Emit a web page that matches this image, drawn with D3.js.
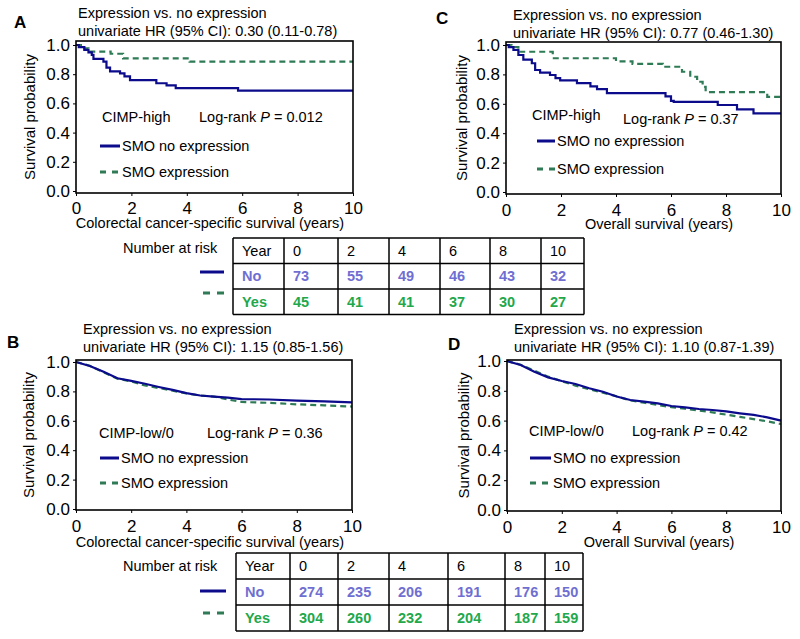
<!DOCTYPE html>
<html>
<head>
<meta charset="utf-8">
<script src="https://cdn.jsdelivr.net/npm/d3@7"></script>
<style>
  html, body { margin: 0; padding: 0; background: #fff; }
  svg { display: block; font-family: "Liberation Sans", Arial, sans-serif; }
</style>
</head>
<body>
<svg id="chart" width="800" height="639"></svg>
<script>
// ---------------- DATA ----------------
const xTicks = [0, 2, 4, 6, 8, 10];
const yTicks = [0, 0.2, 0.4, 0.6, 0.8, 1.0];
const riskYears = ["0", "2", "4", "6", "8", "10"];
const riskHighNo = [73, 55, 49, 46, 43, 32];
const riskHighYes = [45, 41, 41, 37, 30, 27];
const riskLowNo = [274, 235, 206, 191, 176, 150];
const riskLowYes = [304, 260, 232, 204, 187, 159];

// Kaplan-Meier curves: [years, survival]
const kmA_no = [[0,1],[0.1,0.985],[0.3,0.966],[0.45,0.95],[0.57,0.932],[0.63,0.905],[0.99,0.886],[1.1,0.845],[1.23,0.82],[1.59,0.806],[1.75,0.785],[1.95,0.76],[2.9,0.738],[3.27,0.724],[3.6,0.705],[5.85,0.688],[10,0.688]];
const kmA_yes = [[0,1],[0.3,0.977],[0.45,0.954],[1.25,0.94],[1.7,0.909],[4.1,0.886],[10,0.886]];
const kmC_no = [[0,1],[0.1,0.985],[0.27,0.966],[0.45,0.932],[0.63,0.9],[0.94,0.876],[1.06,0.83],[1.24,0.812],[1.6,0.796],[1.8,0.775],[1.97,0.76],[2.58,0.74],[3.07,0.718],[3.31,0.7],[3.67,0.672],[5.8,0.65],[6.0,0.62],[6.1,0.613],[7.7,0.592],[8.4,0.562],[9.0,0.535],[10,0.535]];
const kmC_yes = [[0,1],[0.2,0.985],[0.45,0.954],[1.7,0.91],[4.0,0.888],[4.6,0.872],[5.7,0.852],[6.4,0.818],[6.7,0.784],[6.95,0.75],[7.15,0.715],[7.26,0.68],[9.5,0.647],[10,0.647]];
const kmB_no = [[0,1],[0.5,0.973],[1.0,0.934],[1.5,0.889],[2.0,0.872],[2.5,0.852],[3.0,0.83],[3.5,0.81],[4.0,0.788],[4.5,0.772],[5.0,0.765],[5.5,0.757],[6.0,0.748],[7.0,0.745],[8.0,0.737],[9.0,0.732],[10,0.725]];
const kmB_yes = [[0,1],[0.5,0.975],[1.0,0.93],[1.5,0.887],[2.0,0.868],[2.5,0.84],[3.0,0.823],[3.5,0.805],[4.0,0.787],[4.5,0.772],[5.0,0.765],[5.5,0.745],[6.0,0.728],[7.0,0.722],[8.0,0.712],[9.0,0.705],[10,0.697]];
const kmD_no = [[0,1],[0.5,0.973],[1.0,0.928],[1.5,0.89],[2.0,0.866],[2.5,0.846],[3.0,0.817],[3.5,0.794],[4.0,0.762],[4.5,0.738],[5.0,0.727],[5.5,0.716],[6.0,0.698],[6.5,0.689],[7.0,0.678],[7.5,0.671],[8.0,0.662],[8.5,0.649],[9.0,0.638],[9.5,0.622],[10,0.6]];
const kmD_yes = [[0,1],[0.5,0.975],[1.0,0.935],[1.5,0.895],[2.0,0.865],[2.5,0.835],[3.0,0.81],[3.5,0.788],[4.0,0.763],[4.5,0.735],[5.0,0.72],[5.5,0.705],[6.0,0.69],[6.5,0.68],[7.0,0.668],[7.5,0.655],[8.0,0.64],[8.5,0.625],[9.0,0.61],[9.5,0.595],[10,0.577]];

const hrA = "univariate HR (95% CI): 0.30 (0.11-0.78)";
const hrC = "univariate HR (95% CI): 0.77 (0.46-1.30)";
const hrB = "univariate HR (95% CI): 1.15 (0.85-1.56)";
const hrD = "univariate HR (95% CI): 1.10 (0.87-1.39)";

// ---------------- STYLE ----------------
const BLUE = "#0b0b8c";
const GREEN = "#2e7b55";
const NO_TXT = "#6f6fd2";
const YES_TXT = "#1fa84c";
const FS = 14.5;

const svg = d3.select("#chart");

const panels = [
  { letter:"A", lx:14, ly:28, tx:78, t1:18, t2:36, box:{l:76,r:353,t:41,b:193}, y0:191, y1:45,
    no:kmA_no, yes:kmA_yes, step:true, hr:hrA, xlab:"Colorectal cancer-specific survival (years)",
    xlabX:210, xlabY:228, tickOff:9, ylabX:30, group:"CIMP-high", grpX:102, grpY:122, p:"0.012", pX:199, pY:122,
    legX:100, legW:20, legY1:146, legY2:172 },
  { letter:"C", lx:436, ly:24, tx:513, t1:20, t2:38, box:{l:506,r:781,t:42,b:194}, y0:192, y1:45,
    no:kmC_no, yes:kmC_yes, step:true, hr:hrC, xlab:"Overall survival (years)",
    xlabX:659, xlabY:229, tickOff:10, ylabX:462, group:"CIMP-high", grpX:532, grpY:120, p:"0.37", pX:623, pY:124,
    legX:537, legW:18, legY1:141, legY2:169 },
  { letter:"B", lx:7, ly:348, tx:83, t1:334, t2:352, box:{l:76,r:352,t:360,b:510}, y0:509, y1:362,
    no:kmB_no, yes:kmB_yes, step:false, hr:hrB, xlab:"Colorectal cancer-specific survival (years)",
    xlabX:210, xlabY:547, tickOff:10, ylabX:29, group:"CIMP-low/0", grpX:99, grpY:438, p:"0.36", pX:207, pY:438,
    legX:100, legW:19, legY1:458, legY2:483 },
  { letter:"D", lx:448, ly:350, tx:514, t1:334, t2:352, box:{l:507,r:781,t:360,b:511}, y0:510, y1:361,
    no:kmD_no, yes:kmD_yes, step:false, hr:hrD, xlab:"Overall Survival (years)",
    xlabX:659, xlabY:547, tickOff:10, ylabX:464, group:"CIMP-low/0", grpX:529, grpY:436, p:"0.42", pX:632, pY:436,
    legX:530, legW:21, legY1:458, legY2:483 }
];

panels.forEach(p => {
  const g = svg.append("g");
  const x = d3.scaleLinear().domain([0, 10]).range([p.box.l, p.box.r]);
  const y = d3.scaleLinear().domain([0, 1]).range([p.y0, p.y1]);

  // panel letter & titles
  g.append("text").attr("x", p.lx).attr("y", p.ly).attr("font-size", 17).attr("font-weight", "bold").text(p.letter);
  g.append("text").attr("x", p.tx).attr("y", p.t1).attr("font-size", FS).text("Expression vs. no expression");
  g.append("text").attr("x", p.tx).attr("y", p.t2).attr("font-size", FS).text(p.hr);

  // axes
  const xa = g.append("g").attr("transform", `translate(0,${p.box.b})`)
    .call(d3.axisBottom(x).tickValues(xTicks).tickFormat(d3.format("d")).tickSize(3).tickSizeOuter(0).tickPadding(p.tickOff - 3));
  xa.select(".domain").remove();
  xa.selectAll("text").attr("font-size", 17).attr("font-family", "Liberation Sans, Arial, sans-serif").attr("fill", "#000");
  xa.selectAll("line").attr("stroke", "#000").attr("stroke-width", 1);

  const ya = g.append("g").attr("transform", `translate(${p.box.l},0)`)
    .call(d3.axisLeft(y).tickValues(yTicks).tickFormat(d3.format(".1f")).tickSize(3).tickSizeOuter(0).tickPadding(3));
  ya.select(".domain").remove();
  ya.selectAll("text").attr("font-size", 17).attr("font-family", "Liberation Sans, Arial, sans-serif").attr("fill", "#000");
  ya.selectAll("line").attr("stroke", "#000").attr("stroke-width", 1);

  // axis labels
  g.append("text").attr("x", p.xlabX).attr("y", p.xlabY).attr("text-anchor", "middle").attr("font-size", FS).text(p.xlab);
  const yc = (p.box.t + p.box.b) / 2;
  g.append("text").attr("transform", `translate(${p.ylabX + 5},${yc}) rotate(-90)`)
    .attr("text-anchor", "middle").attr("font-size", FS + 0.5).text("Survival probability");

  // curves
  const line = d3.line().x(d => x(d[0])).y(d => y(d[1])).curve(p.step ? d3.curveStepAfter : d3.curveLinear);
  g.append("path").datum(p.yes).attr("d", line).attr("fill", "none")
    .attr("stroke", GREEN).attr("stroke-width", 2.2).attr("stroke-dasharray", "6,4");
  g.append("path").datum(p.no).attr("d", line).attr("fill", "none")
    .attr("stroke", BLUE).attr("stroke-width", 2.2);

  // box
  g.append("rect").attr("x", p.box.l).attr("y", p.box.t).attr("width", p.box.r - p.box.l).attr("height", p.box.b - p.box.t)
    .attr("fill", "none").attr("stroke", "#000").attr("stroke-width", 1.6);

  // annotations
  g.append("text").attr("x", p.grpX).attr("y", p.grpY).attr("font-size", FS).text(p.group);
  const pt = g.append("text").attr("x", p.pX).attr("y", p.pY).attr("font-size", FS);
  pt.append("tspan").text("Log-rank ");
  pt.append("tspan").attr("font-style", "italic").text("P");
  pt.append("tspan").text(" = " + p.p);

  // legend
  g.append("line").attr("x1", p.legX).attr("x2", p.legX + p.legW).attr("y1", p.legY1).attr("y2", p.legY1)
    .attr("stroke", BLUE).attr("stroke-width", 3);
  g.append("text").attr("x", p.legX + p.legW + 2).attr("y", p.legY1 + 5).attr("font-size", FS).text("SMO no expression");
  g.append("line").attr("x1", p.legX).attr("x2", p.legX + p.legW).attr("y1", p.legY2).attr("y2", p.legY2)
    .attr("stroke", GREEN).attr("stroke-width", 3).attr("stroke-dasharray", "6,6");
  g.append("text").attr("x", p.legX + p.legW + 2).attr("y", p.legY2 + 5).attr("font-size", FS).text("SMO expression");
});

// ---------------- RISK TABLES ----------------
const tables = [
  { cols:[233, 284, 338, 389, 440, 490, 541, 584], top:238, rowH:25.5, no:riskHighNo, yes:riskHighYes,
    labX:123, labY:253, ln1:272, ln2:293, lnX1:200, lnX2:224 },
  { cols:[236, 290, 338, 389, 448, 505, 545, 583], top:553, rowH:26, no:riskLowNo, yes:riskLowYes,
    labX:123, labY:571, ln1:591, ln2:613, lnX1:200, lnX2:226 }
];

tables.forEach(t => {
  const g = svg.append("g");
  g.append("text").attr("x", t.labX).attr("y", t.labY).attr("font-size", FS).text("Number at risk");
  g.append("line").attr("x1", t.lnX1).attr("x2", t.lnX2).attr("y1", t.ln1).attr("y2", t.ln1)
    .attr("stroke", BLUE).attr("stroke-width", 3);
  g.append("line").attr("x1", t.lnX1 + 3).attr("x2", t.lnX2).attr("y1", t.ln2).attr("y2", t.ln2)
    .attr("stroke", GREEN).attr("stroke-width", 3).attr("stroke-dasharray", "7,7");

  const rows = [
    { label:"Year", vals:riskYears, color:"#000", bold:false },
    { label:"No", vals:t.no, color:NO_TXT, bold:true },
    { label:"Yes", vals:t.yes, color:YES_TXT, bold:true }
  ];
  const bottom = t.top + t.rowH * rows.length;
  rows.forEach((r, i) => {
    g.append("line").attr("x1", t.cols[0]).attr("x2", t.cols[t.cols.length - 1])
      .attr("y1", t.top + i * t.rowH).attr("y2", t.top + i * t.rowH).attr("stroke", "#000").attr("stroke-width", 1.5);
  });
  g.append("line").attr("x1", t.cols[0]).attr("x2", t.cols[t.cols.length - 1])
    .attr("y1", bottom).attr("y2", bottom).attr("stroke", "#000").attr("stroke-width", 1.5);
  t.cols.forEach(cx => {
    g.append("line").attr("x1", cx).attr("x2", cx).attr("y1", t.top).attr("y2", bottom)
      .attr("stroke", "#000").attr("stroke-width", 1.5);
  });
  rows.forEach((r, i) => {
    const cy = t.top + i * t.rowH + t.rowH / 2 + 5;
    const cells = [r.label].concat(r.vals);
    cells.forEach((v, j) => {
      g.append("text").attr("x", t.cols[j] + 9).attr("y", cy)
        .attr("font-size", FS).attr("font-weight", r.bold ? "bold" : "normal")
        .attr("fill", r.color).text(v);
    });
  });
});
</script>
</body>
</html>
